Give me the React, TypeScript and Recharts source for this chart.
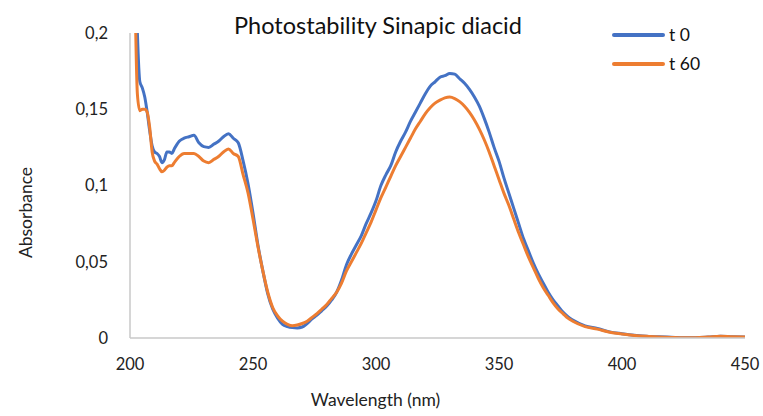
import React from 'react';
import { LineChart, Line, XAxis, YAxis, Label } from 'recharts';

const wavelengths = [
  202, 203, 204, 205, 206, 207, 208, 209, 210, 211, 212, 213, 214, 215, 216, 217, 218,
  220, 222, 224, 226, 228, 230, 232, 234, 236, 238, 240, 242, 244, 246, 248, 250,
  252, 254, 256, 258, 260, 262, 264, 266, 268, 270, 272, 274, 276, 278, 280, 282,
  284, 286, 288, 290, 292, 294, 296, 298, 300, 302, 304, 306, 308, 310, 312, 314,
  316, 318, 320, 322, 324, 326, 328, 330, 332, 334, 336, 338, 340, 342, 344, 346,
  348, 350, 352, 354, 356, 358, 360, 362, 364, 366, 368, 370, 372, 374, 376, 378,
  380, 385, 390, 395, 400, 405, 410, 415, 420, 425, 430, 435, 440, 445, 450,
];

const t0 = [
  0.26, 0.2, 0.168, 0.164, 0.158, 0.148, 0.136, 0.126, 0.122, 0.121, 0.119, 0.115, 0.117, 0.122, 0.122, 0.121, 0.124,
  0.129, 0.131, 0.132, 0.133, 0.128, 0.1255, 0.125, 0.127, 0.129, 0.132, 0.134, 0.131, 0.128, 0.116, 0.101, 0.082,
  0.061, 0.044, 0.029, 0.019, 0.013, 0.009, 0.0075, 0.0068, 0.0066, 0.0072, 0.0095, 0.0125, 0.015, 0.018, 0.021, 0.025,
  0.03, 0.038, 0.048, 0.055, 0.061, 0.067, 0.075, 0.082, 0.09, 0.1, 0.107, 0.113, 0.122, 0.129, 0.135, 0.142,
  0.148, 0.154, 0.16, 0.165, 0.168, 0.171, 0.172, 0.1735, 0.173, 0.17, 0.167, 0.163, 0.158, 0.152, 0.144, 0.135,
  0.125, 0.116, 0.105, 0.095, 0.085, 0.075, 0.065, 0.057, 0.049, 0.042, 0.036, 0.03, 0.025, 0.021, 0.017, 0.014,
  0.0118, 0.008, 0.0062, 0.004, 0.0028, 0.0018, 0.0012, 0.0008, 0.0005, 0.0002, 0.0002, 0.0006, 0.0012, 0.0008, 0.0007,
];

const t60 = [
  0.23, 0.16, 0.149, 0.15, 0.15, 0.148, 0.138, 0.122, 0.116, 0.114, 0.111, 0.109, 0.11, 0.112, 0.113, 0.113, 0.115,
  0.119, 0.121, 0.121, 0.121, 0.119, 0.116, 0.115, 0.117, 0.119, 0.122, 0.124, 0.121, 0.119, 0.107, 0.095, 0.078,
  0.06, 0.044, 0.03, 0.02, 0.0145, 0.011, 0.009, 0.008, 0.0085, 0.0095, 0.011, 0.0135, 0.016, 0.019, 0.022, 0.026,
  0.03, 0.036, 0.044, 0.05, 0.056, 0.062, 0.069, 0.076, 0.084, 0.092, 0.099, 0.106, 0.113, 0.119, 0.125, 0.131,
  0.137, 0.142, 0.147, 0.151, 0.154, 0.156, 0.1575, 0.158, 0.157, 0.155, 0.152, 0.148, 0.143, 0.137, 0.13, 0.122,
  0.113, 0.104, 0.095, 0.087, 0.078, 0.069, 0.061, 0.053, 0.046, 0.039, 0.033, 0.028, 0.023, 0.019, 0.016, 0.013,
  0.011, 0.0075, 0.0058, 0.0038, 0.0026, 0.0017, 0.0011, 0.0007, 0.0004, 0.0002, 0.0002, 0.0006, 0.0011, 0.0008, 0.0007,
];

const xTicks = [200, 250, 300, 350, 400, 450];
const yTicks = [0, 0.05, 0.1, 0.15, 0.2];

const BLUE = '#4472C4';
const ORANGE = '#ED7D31';
const FONT = 'Lato, "Open Sans", sans-serif';

const data = wavelengths.map((w, i) => ({ w, t0: t0[i], t60: t60[i] }));

const App = () => {
  const tickStyle = { fill: '#222', fontSize: 16.5, fontFamily: FONT };
  const titleStyle = { fill: '#222', fontSize: 17.5, fontFamily: FONT };
  return (
    <div style={{ position: 'absolute', left: 0, top: 0, width: 763, height: 416, background: '#fff', fontFamily: FONT }}>
      <LineChart width={763} height={416} data={data} margin={{ top: 33, right: 18, bottom: 48, left: 80 }}>
        <XAxis
          dataKey="w"
          type="number"
          domain={[200, 450]}
          ticks={xTicks}
          tickLine={false}
          tickSize={0}
          tickMargin={20}
          height={30}
          stroke="#c8c8c8"
          strokeWidth={1.5}
          tick={tickStyle}
        >
          <Label value="Wavelength (nm)" position="insideBottom" offset={-38} dx={-62} style={titleStyle} />
        </XAxis>
        <YAxis
          type="number"
          domain={[0, 0.2]}
          allowDataOverflow
          ticks={yTicks}
          tickLine={false}
          tickSize={0}
          tickMargin={22}
          width={50}
          stroke="#c8c8c8"
          strokeWidth={1.5}
          tick={tickStyle}
          tickFormatter={(v: number) => String(v).replace('.', ',')}
        >
          <Label value="Absorbance" angle={-90} position="insideLeft" offset={-54} dy={27} style={{ ...titleStyle, textAnchor: 'middle' }} />
        </YAxis>
        <Line type="monotone" dataKey="t0" stroke={BLUE} strokeWidth={3} dot={false} isAnimationActive={false} />
        <Line type="monotone" dataKey="t60" stroke={ORANGE} strokeWidth={3} dot={false} isAnimationActive={false} />
      </LineChart>
      <div style={{ position: 'absolute', left: 0, width: 756, top: 11, textAlign: 'center', fontSize: 23.5, color: '#111' }}>
        Photostability Sinapic diacid
      </div>
      <div style={{ position: 'absolute', left: 612, top: 20, fontSize: 17.5, color: '#111' }}>
        {[{ name: 't 0', color: BLUE }, { name: 't 60', color: ORANGE }].map((s) => (
          <div key={s.name} style={{ display: 'flex', alignItems: 'center', height: 29 }}>
            <div style={{ width: 53, height: 4, background: s.color, borderRadius: 2, marginRight: 4 }} />
            <span>{s.name}</span>
          </div>
        ))}
      </div>
    </div>
  );
};

export default App;
